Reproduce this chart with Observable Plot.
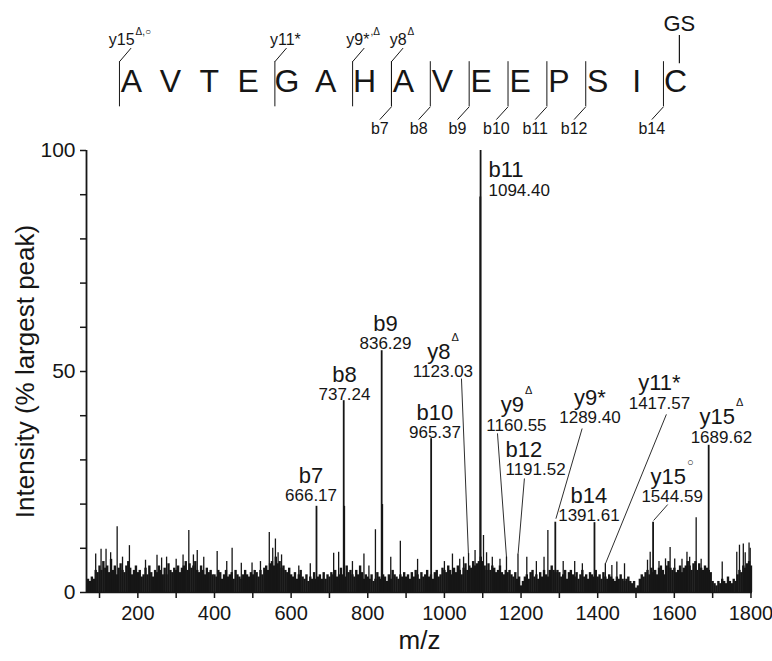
<!DOCTYPE html>
<html><head><meta charset="utf-8">
<script src="https://cdn.jsdelivr.net/npm/d3@7"></script>
<script src="https://cdn.jsdelivr.net/npm/@observablehq/plot@0.6"></script>
<style>
body{margin:0;background:#fff;}
#chart{position:relative;width:772px;height:661px;overflow:hidden;}
#chart svg{display:block;}
#chart svg.main{position:absolute;left:0;top:130px;}
#chart svg.head{position:absolute;left:0;top:0;}
</style></head><body><div id="chart"></div>
<script>
const FONT = "'Liberation Sans', Arial, Helvetica, sans-serif";

// ---- peptide header ----
const residues = ["A","V","T","E","G","A","H","A","V","E","E","P","S","I","C"];
const yIonNames = ["y15^Δ,○","y11*","y9*^,Δ","y8^Δ"];
const yIonSite = [0, 4, 6, 7];
const bIonNames = ["b7","b8","b9","b10","b11","b12","b14"];
const bIonSite = [7, 8, 9, 10, 11, 12, 14];
const modName = "GS";
const modSite = 14;

// ---- spectrum: background noise, m/z 70..1800 every 5 ----
const noiseStart = 70, noiseStep = 5;
const noiseIntensity = [
  3,2.5,3.5,3,5,4.5,
  6,5,7,5.5,6,4.5,7.5,5,6,4,5.5,6.5,5,4.5,6,7,5.5,4,5,6,
  4.5,5,3.5,4,5.5,4,6,4.5,3.5,5,4.5,6,5,4,5.5,4,6.5,5,4.5,5.5,
  5,6,4.5,5.5,6,7,5,6.5,5.5,6,7,5,4.5,6,5,4,5.5,4.5,5,4,
  4,3.5,5,4.5,3,4,5,3.5,4,4.5,3,5,4,3.5,3,4,5,4,3.5,4.5,
  4,5,4.5,3.5,5,4,5.5,6,5,6.5,7,6,8,6.5,7,5.5,6,5,4.5,5.5,
  4,3.5,4.5,3,4,5,3.5,3,4,2.5,3.5,3,4.5,3,3.5,4,3,4.5,3,4,
  3.5,4.5,4,5,3.5,4,5.5,4,3.5,6,4.5,5,4,3.5,5,4,6,4.5,3,4,
  3.5,3,4,2.5,3,4.5,3.5,3,4,3.5,2.5,4,3,5,4,3.5,3,4,3.5,4.5,
  3.5,4,3,4.5,3.5,5,4,3,4.5,3.5,4,5,3.5,4,3,4.5,5,3.5,4,5.5,
  5,4.5,6,5,4,5.5,4.5,6,5,4,5.5,6.5,5,6,5.5,7,6,6.5,7,8,
  7,6,5,6.5,5,6,5.5,4.5,5,6,4.5,4,5,4.5,5,4,3.5,4.5,3,3.5,
  1.5,2.5,3.5,4,3,4.5,5,3.5,4,3,4.5,3.5,5,4,3.5,5,6,5,4.5,5,
  4.5,3.5,4,5,3,4.5,5,4,3.5,4.5,3,4,5,3.5,4,3,4.5,4,3.5,5,
  3.5,4,3,4.5,3.5,3,4,3.5,3,2.5,3.5,3,4,3,2.5,3,3.5,2.5,2,2.5,
  1,1.5,3,4,3.5,4.5,5,4,5.5,4.5,5,4,5.5,6,5,4,6,7,5.5,5,
  5.5,4.5,5,6,4.5,5.5,6,7,6,5,6.5,7,5,6.5,5.5,5,6,5.5,5,4.5,
  2.5,2,1.5,2.5,2,3,2.5,2,3.5,2.5,2,3,2.5,4,5,4.5,6,5.5,6.5,7,
  6
];
// isolated small spikes
const spikeMz  = [90,104,117,129,146,160,178,220,250,262,275,300,318,333,345,355,372,407,432,446,470,498,520,543,552,559,566,575,620,650,711,724,760,790,803,820,860,885,930,1000,1021,1040,1050,1063,1080,1102,1110,1125,1145,1162,1192,1215,1240,1260,1270,1310,1340,1360,1420,1437,1450,1470,1530,1537,1560,1577,1589,1601,1620,1633,1640,1657,1670,1725,1763,1770,1780,1785,1795,1798];
const spikeInt = [8.7,9.8,9.8,9,14.9,8,10.6,7.3,8.4,7.8,8,7.5,8.5,14,8.5,9.5,8,9.3,7,10,6.6,6.7,7,13.6,10,12.1,9,8.5,6,6.5,8.9,9.1,7,8.7,6,14.2,8,11.6,7.5,7,8.7,7.5,8,8.8,9.5,12.9,9,8,7.5,8,8.7,8,7,8,14,7,7,6.5,6.5,6.1,6.9,6.5,7.3,9.1,7,7.6,10.2,7.6,7.5,9.1,8,16.9,7.5,6.9,9.1,10.7,11,9,11.2,10];
// assigned fragment peaks (plus their isotope neighbours)
const peakMz  = [666.17,737.24,738.6,836.29,837.8,965.37,1093.6,1094.40,1289.40,1391.61,1544.59,1689.62];
const peakInt = [19.5,43.4,19.5,54.7,19.9,34.8,89.5,100,15.9,15.8,15.9,33.3];

// ---- peak annotations ----
const annIon   = ["b7","b8","b9","b10","b11","y8^Δ","y9^Δ","b12","y9*","y11*","b14","y15^○","y15^Δ"];
const annMass  = ["666.17","737.24","836.29","965.37","1094.40","1123.03","1160.55","1191.52","1289.40","1417.57","1391.61","1544.59","1689.62"];
const annLabelMz  = [651.9,739.3,846.2,975.4,1115,996.2,1188,1159.3,1379.8,1561.1,1377.1,1594.2,1722.8];
const annLabelInt = [21.9,44.8,56.3,36.2,91.0,50.0,37.8,27.8,39.6,42.8,17.4,21.7,35.1];
const annLeftAligned = [false,false,false,false,true,false,false,true,false,false,false,false,false];
// leader lines from label to peak
const leadFromMz  = [1044.5,1138.5,1208.8,1359.4,1579.3,1582.7];
const leadFromInt = [48.4,36.0,25.8,37.1,40.3,19.9];
const leadToMz    = [1062.6,1162,1192.4,1291,1420.2,1546];
const leadToInt   = [8.8,8.0,8.8,16.7,6.5,16.3];

// ticks
const xMajor = [200,400,600,800,1000,1200,1400,1600,1800];
const xMinor = [100,300,500,700,900,1100,1300,1500,1700];
const yMajor = [0,50,100];
const yMinor = [10,20,30,40,60,70,80,90];

// ---- build tables ----
const noise = noiseIntensity.map((v, i) => ({mz: noiseStart + i * noiseStep, v}));
const spikes = spikeMz.map((m, i) => ({mz: m, v: spikeInt[i]}));
const peaks = peakMz.map((m, i) => ({mz: m, v: peakInt[i]}));
const ann = annIon.map((ion, i) => ({ion, mass: annMass[i], x: annLabelMz[i], y: annLabelInt[i], left: annLeftAligned[i]}));
const leaders = leadFromMz.map((m, i) => ({x1: m, y1: leadFromInt[i], x2: leadToMz[i], y2: leadToInt[i]}));

function superscripts(svg, size, raise) {
  d3.select(svg).selectAll("text").each(function () {
    const t = this.textContent;
    if (!t.includes("^")) return;
    const [a, b] = t.split("^");
    const sel = d3.select(this);
    sel.text(a);
    sel.append("tspan").attr("font-size", size).attr("dy", -raise).attr("dx", 1).text(b);
  });
}

const INK = "#161616";
const OFF = 0.31; // cleavage mark sits just before the residue

const header = Plot.plot({
  width: 772, height: 140,
  marginLeft: 131, marginRight: 97, marginTop: 0, marginBottom: 0,
  x: {domain: [0, 14], axis: null},
  y: {domain: [-2.65, 3.71], axis: null},
  className: "head",
  style: {fontFamily: FONT, background: "white", color: INK},
  marks: [
    Plot.text(residues, {x: (d, i) => i, y: 0, text: d => d, fontSize: 32, fill: INK}),
    Plot.ruleX(yIonSite, {x: d => d - OFF, y1: -1.12, y2: 0.93, stroke: INK, strokeWidth: 1}),
    Plot.link(yIonSite, {x1: d => d - OFF, y1: 0.93, x2: d => d - OFF + 0.3, y2: 1.55, stroke: INK, strokeWidth: 1}),
    Plot.text(yIonSite, {x: d => d - OFF + 0.27, y: 1.9, text: (d, i) => yIonNames[i], fontSize: 16, fill: INK}),
    Plot.ruleX(bIonSite, {x: d => d - OFF, y1: -1.12, y2: 0.93, stroke: INK, strokeWidth: 1}),
    Plot.link(bIonSite, {x1: d => d - OFF, y1: -1.12, x2: d => d - OFF - 0.3, y2: -1.7, stroke: INK, strokeWidth: 1}),
    Plot.text(bIonSite, {x: d => d - OFF - 0.3, y: -2.1, text: (d, i) => bIonNames[i], fontSize: 16, fill: INK}),
    Plot.ruleX([modSite], {x: d => d + 0.1, y1: 0.84, y2: 2.12, stroke: INK, strokeWidth: 1.2}),
    Plot.text([modName], {x: modSite + 0.1, y: 2.65, fontSize: 22, fill: INK})
  ]
});
superscripts(header, 10, 10);

const main = Plot.plot({
  width: 772, height: 531,
  marginTop: 20, marginBottom: 69, marginLeft: 86, marginRight: 20,
  x: {domain: [66, 1804]},
  y: {domain: [0, 100]},
  className: "main",
  style: {fontFamily: FONT, background: "transparent", color: INK},
  marks: [
    Plot.axisX({ticks: xMajor, tickSize: 6, tickPadding: 7, tickFormat: d => String(d), fontSize: 20, label: null, strokeWidth: 1.5}),
    Plot.axisX({ticks: xMinor, tickSize: 6, tickFormat: () => "", label: null, strokeWidth: 1.5}),
    Plot.axisY({ticks: yMajor, tickSize: 6, tickPadding: 5, tickFormat: d => String(d), fontSize: 21, label: null, strokeWidth: 1.5}),
    Plot.axisY({ticks: yMinor, tickSize: 6, tickFormat: () => "", label: null, strokeWidth: 1.5}),
    Plot.ruleY([0], {stroke: INK, strokeWidth: 1.5}),
    Plot.ruleX(noise, {x: "mz", y1: 0, y2: "v", stroke: INK, strokeWidth: 2.4}),
    Plot.ruleX(spikes, {x: "mz", y1: 0, y2: "v", stroke: INK, strokeWidth: 1.3}),
    Plot.ruleX(peaks, {x: "mz", y1: 0, y2: "v", stroke: INK, strokeWidth: 1.8}),
    Plot.ruleX([66], {y1: 0, y2: 100, stroke: INK, strokeWidth: 1.8}),
    Plot.link(leaders, {x1: "x1", y1: "y1", x2: "x2", y2: "y2", stroke: INK, strokeWidth: 0.9}),
    Plot.text(ann.filter(d => !d.left), {x: "x", y: "y", text: "mass", fontSize: 17, fill: INK}),
    Plot.text(ann.filter(d => !d.left), {x: "x", y: "y", text: "ion", dy: -20, fontSize: 22, fill: INK}),
    Plot.text(ann.filter(d => d.left), {x: "x", y: "y", text: "mass", textAnchor: "start", fontSize: 17, fill: INK}),
    Plot.text(ann.filter(d => d.left), {x: "x", y: "y", text: "ion", dy: -20, textAnchor: "start", fontSize: 22, fill: INK}),
    Plot.text(["Intensity (% largest peak)"], {frameAnchor: "left", textAnchor: "middle", lineAnchor: "middle", rotate: -90, dx: -61, fontSize: 26, fill: INK}),
    Plot.text(["m/z"], {frameAnchor: "bottom", textAnchor: "middle", lineAnchor: "middle", dy: 48, fontSize: 26, fill: INK})
  ]
});
superscripts(main, 11, 18);

document.getElementById("chart").append(header, main);
</script>
</body></html>
